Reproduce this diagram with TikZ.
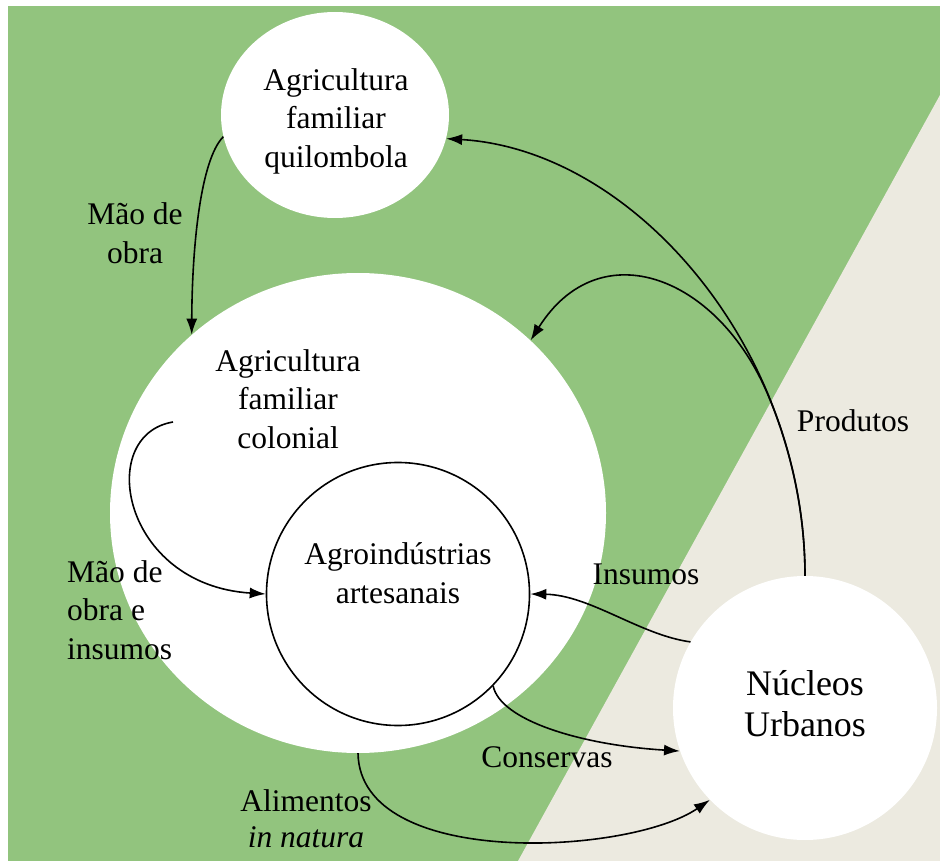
\documentclass[tikz,border=0pt]{standalone}
\usepackage{fontspec}
\setmainfont{Liberation Serif}
\usetikzlibrary{arrows.meta,shapes.geometric}

\definecolor{field}{RGB}{146,196,126}
\definecolor{town}{RGB}{236,234,224}

\newcommand\lblfont{\fontsize{31.5}{38.5}\selectfont}
\newcommand\bigfont{\fontsize{36}{41}\selectfont}

\tikzset{
  blob/.style={fill=white, draw=none, inner sep=0pt},
  ring/.style={circle, fill=white, draw=black, line width=1.6pt, inner sep=0pt},
  txt/.style={font=\lblfont, align=center, inner sep=0pt},
  flow/.style={draw=black, line width=1.6pt, -{Latex[length=16pt,width=11pt]}},
  trunk/.style={draw=black, line width=1.6pt}
}

\begin{document}
\begin{tikzpicture}[x=1pt, y=-1pt]
  \useasboundingbox (0,0) rectangle (940,861);

  % background: white page, green field, beige urban wedge
  \fill[white] (0,0) rectangle (940,861);
  \fill[field] (8,6) rectangle (940,861);
  \fill[town] (940,95) -- (518,861) -- (940,861) -- cycle;

  % shapes
  \node[blob, ellipse, minimum width=228pt, minimum height=206pt] (quil) at (335,115) {};
  \node[blob, ellipse, minimum width=496pt, minimum height=480pt] (col) at (358,513) {};
  \node[ring, minimum size=263pt] (ag) at (398,594) {};
  \node[blob, circle, minimum size=264pt] (nu) at (805,708) {};

  % texts inside the shapes
  \node[txt] (quiltxt) at (336,121) {Agricultura\\familiar\\quilombola};
  \node[txt] (coltxt) at (288,399) {Agricultura\\familiar\\colonial};
  \node[txt] (agtxt) at (398,573) {Agroindústrias\\artesanais};
  \node[txt, font=\bigfont] (nutxt) at (805,704) {Núcleos\\Urbanos};

  % flow labels
  \node[txt] (lmao) at (135,233) {Mão de\\obra};
  \node[txt, align=left, anchor=west] (lmaoins) at (67,610) {Mão de\\obra e\\insumos};
  \node[txt] (lprod) at (853,421) {Produtos};
  \node[txt] (lins) at (646,574) {Insumos};
  \node[txt] (lcons) at (547,757) {Conservas};
  \node[txt, font=\fontsize{31.5}{36}\selectfont] (lalim) at (306,819) {Alimentos\\\textit{in natura}};

  % free end of the loop inside the colonial farm circle
  \coordinate (colsrc) at (173,422);

  % connectors
  \draw[flow] (quil.191.5) .. controls (200,160) and (192,250) .. (col.133);
  \draw[flow] (nu.north) .. controls (805,350) and (635,150) .. (quil.348.7);
  \draw[flow] (nu.north) .. controls (805,513.4) and (791.7,452) .. (768.5,396.2)
                         .. controls (719,276.6) and (600,230) .. (col.45);
  \draw[flow] (colsrc) .. controls (95,435) and (122,585) .. (ag.west);
  \draw[flow] (nu.150) .. controls (640,635) and (590,595) .. (ag.east);
  \draw[flow] (ag.-44) .. controls (500,720) and (580,745) .. (nu.199);
  \draw[flow] (col.south) .. controls (360,870) and (630,855) .. (nu.224);
\end{tikzpicture}
\end{document}
